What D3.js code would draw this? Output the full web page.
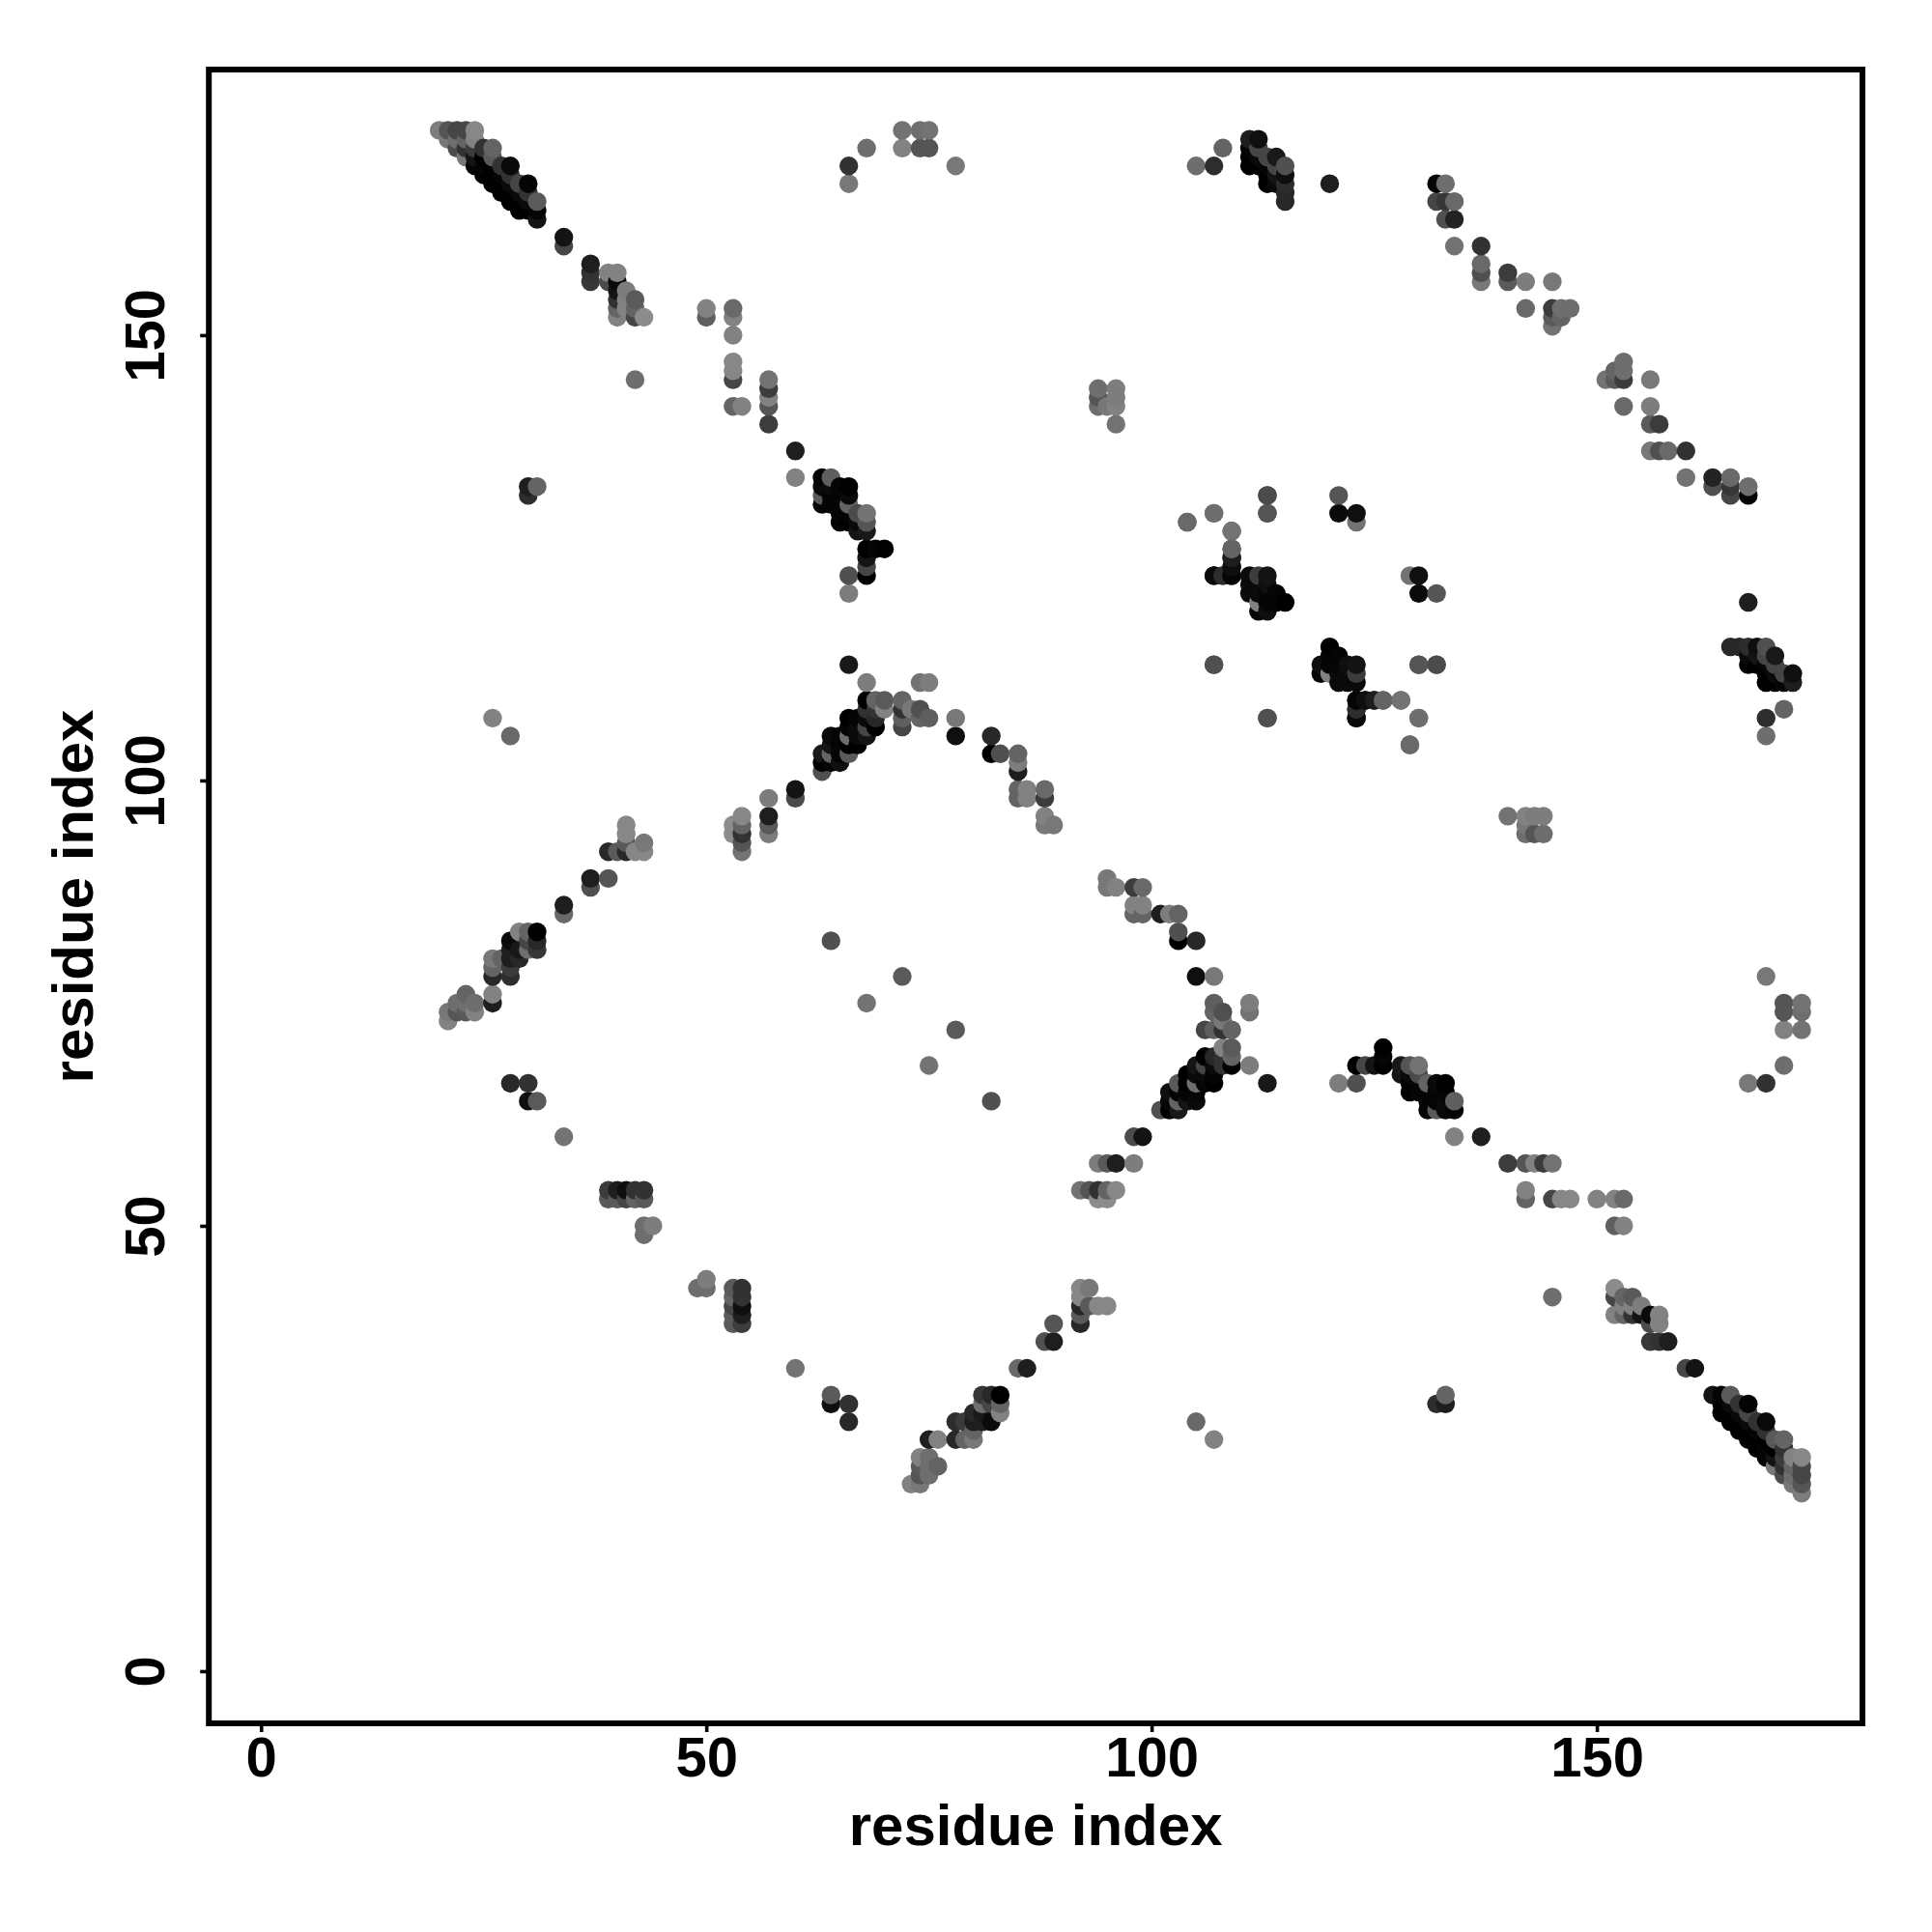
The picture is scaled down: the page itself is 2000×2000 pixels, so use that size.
<!DOCTYPE html>
<html>
<head>
<meta charset="utf-8">
<script src="https://cdn.jsdelivr.net/npm/d3@7"></script>
<style>html,body{margin:0;padding:0;background:#fff}svg{display:block}</style>
</head>
<body>
<script>
// Each contact: [residue i, residue j, grey level]. The map is symmetric; only i<j is listed.
const cornerStrand = [[20,173,125],[21,173,85],[22,173,70],[23,173,70],[24,173,135],[21,172,120],[22,172,110],[23,172,100],[24,172,130],[22,171,75],[23,171,50],[24,171,60],[25,171,50],[26,171,100],[23,170,120],[24,170,20],[25,170,0],[26,170,90],[24,169,5],[25,169,5],[26,169,0],[27,169,50],[28,169,10],[25,168,0],[26,168,0],[27,168,5],[28,168,50],[26,167,0],[27,167,0],[28,167,10],[29,167,70],[30,167,5],[27,166,0],[28,166,0],[29,166,10],[30,166,50],[28,165,0],[29,165,0],[30,165,10],[31,165,90],[29,164,0],[30,164,0],[31,164,5],[31,163,20]];
const strandB = [[34,161,20],[34,160,70],[37,158,30],[37,157,50],[37,156,55],[39,157,130],[39,156,75],[40,157,130],[40,156,10],[40,155,20],[40,154,50],[40,153,100],[40,152,130],[41,155,125],[41,154,130],[41,153,130],[42,154,90],[42,153,100],[42,152,70],[43,152,140],[42,145,110]];
const strandC = [[50,153,130],[50,152,95],[53,153,105],[53,152,130],[53,150,130],[53,147,135],[53,146,135],[53,145,70],[53,142,100],[54,142,130],[57,145,115],[57,144,60],[57,143,130],[57,142,85],[57,140,60],[60,137,30],[60,134,130]];
const clusterD = [[63,134,5],[63,133,10],[63,132,90],[63,131,5],[64,134,95],[64,133,10],[64,132,5],[64,131,5],[65,133,5],[65,132,5],[65,131,5],[65,130,5],[65,129,0],[66,133,0],[66,132,10],[66,131,100],[66,130,5],[66,129,0],[67,130,75],[67,129,10],[67,128,20],[68,130,115],[68,129,85],[68,128,25],[68,126,0],[68,125,20],[68,124,70],[68,123,0],[69,126,5],[70,126,0],[66,123,80],[66,121,125]];
const isolated = [[30,133,30],[30,132,45],[31,133,100],[26,107,130],[28,105,105],[28,66,40],[30,66,50],[30,64,15],[31,64,90],[34,60,115],[64,82,80],[68,75,115],[72,78,90]];
const strandE = [[21,74,120],[21,73,130],[22,75,110],[22,74,85],[23,76,100],[23,75,110],[23,74,90],[24,75,110],[24,74,130],[26,76,130],[26,75,30],[26,80,120],[26,79,100],[26,78,40],[27,80,100],[28,82,10],[28,81,30],[28,80,30],[28,79,60],[28,78,45],[29,83,130],[29,81,25],[29,80,40],[30,83,100],[30,82,70],[30,81,110],[31,83,0],[31,82,40],[31,81,55]];
const strandF = [[34,86,30],[34,85,105],[37,89,30],[37,88,80],[39,89,85],[39,92,40],[40,92,90],[41,95,135],[41,94,135],[41,93,90],[41,92,40],[42,92,135],[43,93,120],[43,92,135]];
const strandG = [[39,54,60],[39,53,90],[40,54,30],[40,53,90],[41,54,15],[41,53,70],[42,54,50],[42,53,100],[43,54,50],[43,53,90],[43,50,110],[44,50,125],[43,49,110]];
const strandH = [[53,95,140],[53,94,140],[54,96,135],[54,95,100],[54,94,50],[54,93,85],[54,92,115],[57,98,125],[57,96,30],[57,95,90],[57,94,125],[60,99,20],[60,98,75]];
const hairpin = [[63,103,25],[63,102,0],[63,101,80],[64,105,10],[64,104,20],[64,103,100],[64,102,5],[65,105,5],[65,104,5],[65,103,5],[65,102,15],[66,107,0],[66,106,5],[66,105,110],[66,104,0],[66,103,90],[67,107,5],[67,106,10],[67,105,10],[67,104,0],[68,109,0],[68,108,50],[68,107,10],[68,106,70],[68,105,20],[69,109,100],[69,108,50],[69,107,40],[69,106,0],[70,109,90],[70,108,130]];
const strandJ = [[72,109,100],[72,108,50],[72,107,95],[72,106,70],[73,108,120],[74,108,80],[74,107,100],[75,107,95],[74,111,115],[75,111,125],[66,113,25],[68,111,125],[78,107,120],[78,105,15],[82,105,40],[82,103,0],[83,103,80],[85,103,100],[85,102,125],[85,101,30],[85,99,100],[85,98,100],[86,99,130],[86,98,130],[88,99,105],[88,98,60],[88,96,130],[88,95,120],[89,95,120]];
const topArc = [[66,169,50],[66,167,120],[68,171,110],[72,173,115],[72,171,130],[74,173,110],[75,173,115],[74,171,85],[75,171,85],[78,169,120]];
const groupK = [[94,144,110],[94,143,85],[94,142,110],[95,142,120],[96,144,125],[96,143,125],[96,142,130],[96,140,115]];
const groupL = [[104,129,90],[107,130,110],[109,128,110],[109,126,95],[109,125,25],[109,124,20],[109,123,10],[107,123,5],[108,123,40],[113,132,85],[113,130,85],[121,132,85],[121,130,10],[123,130,15],[123,129,115],[107,113,85],[113,107,80],[130,113,85],[132,113,75],[130,107,110],[129,104,105],[124,109,15],[125,109,30],[126,109,100],[128,109,115],[123,109,5],[123,108,45],[123,107,10]];
const clusterM = [[111,123,10],[112,123,60],[113,123,20],[111,122,10],[112,122,10],[113,122,15],[111,121,10],[112,121,10],[113,121,5],[114,121,5],[112,120,130],[113,120,5],[114,120,5],[115,120,0],[112,119,5],[113,119,15]];
const clusterN = [[105,169,110],[107,169,45],[108,171,100],[111,172,30],[112,172,15],[111,171,5],[112,171,70],[111,170,0],[112,170,10],[113,170,70],[114,170,25],[111,169,0],[112,169,0],[113,169,5],[114,169,70],[115,169,80],[113,168,0],[114,168,20],[115,168,15],[113,167,0],[114,167,10],[115,167,45],[115,166,40],[115,165,40],[120,167,30]];
const chainP = [[132,167,5],[133,167,110],[132,165,70],[133,165,55],[134,165,105],[133,163,80],[134,163,35],[134,160,115],[137,160,50],[137,158,105],[137,157,80],[137,156,120],[140,157,60],[140,156,90],[142,156,125],[142,153,105],[145,156,120],[145,153,60],[145,152,90],[145,151,115],[146,153,110],[146,152,100],[147,153,110]];

const xTicks = [0, 50, 100, 150];
const yTicks = [0, 50, 100, 150];
const xTitle = "residue index";
const yTitle = "residue index";

const upper = [].concat(cornerStrand, strandB, strandC, clusterD, isolated, strandE, strandF, strandG, strandH, hairpin, strandJ, topArc, groupK, groupL, clusterM, clusterN, chainP);
const contacts = upper.flatMap(([i, j, g]) => [{x: i, y: j, g}, {x: j, y: i, g}])
  .sort((a, b) => a.x - b.x || a.y - b.y);

const frameLeft = 216.2, frameRight = 1928, frameTop = 72, frameBottom = 1784;
const x = d3.scaleLinear().domain([-5.86, 179.82]).range([frameLeft, frameRight]);
const y = d3.scaleLinear().domain([-5.86, 179.82]).range([frameBottom, frameTop]);
const font = "'Liberation Sans', Arial, sans-serif";
const tickFontSize = 58;
const titleFontSize = 60;

const svg = d3.select("body").append("svg").attr("width", 2000).attr("height", 2000)
  .style("background", "#fff");

svg.append("g").selectAll("circle").data(contacts).join("circle")
  .attr("cx", d => x(d.x)).attr("cy", d => y(d.y)).attr("r", 9.7)
  .attr("fill", d => d3.rgb(d.g, d.g, d.g));

svg.append("rect").attr("x", frameLeft).attr("y", frameTop).attr("width", frameRight - frameLeft).attr("height", frameBottom - frameTop)
  .attr("fill", "none").attr("stroke", "#000").attr("stroke-width", 6);

const xAxis = svg.append("g").attr("transform", `translate(0,${frameBottom})`)
  .call(d3.axisBottom(x).tickValues(xTicks).tickSize(9).tickPadding(9).tickFormat(d3.format("d")));
const yAxis = svg.append("g").attr("transform", `translate(${frameLeft},0)`)
  .call(d3.axisLeft(y).tickValues(yTicks).tickSize(9).tickFormat(d3.format("d")));
[xAxis, yAxis].forEach(a => {
  a.select(".domain").remove();
  a.selectAll("line").attr("stroke", "#000").attr("stroke-width", 3.6);
  a.selectAll("text").attr("fill", "#000").attr("font-family", font).attr("font-weight", 700).attr("font-size", tickFontSize);
});
xAxis.selectAll("text").attr("dy", null).attr("y", 55).attr("text-anchor", "middle");
yAxis.selectAll("text").attr("x", null).attr("dy", null).attr("text-anchor", "middle")
  .attr("transform", "translate(-46,0) rotate(-90)");

svg.append("text").attr("x", (frameLeft + frameRight) / 2).attr("y", 1910).attr("text-anchor", "middle")
  .attr("font-family", font).attr("font-weight", 700).attr("font-size", titleFontSize).text(xTitle);
svg.append("text").attr("transform", `translate(96,${(frameTop + frameBottom) / 2}) rotate(-90)`).attr("text-anchor", "middle")
  .attr("font-family", font).attr("font-weight", 700).attr("font-size", titleFontSize).text(yTitle);
</script>
</body>
</html>
